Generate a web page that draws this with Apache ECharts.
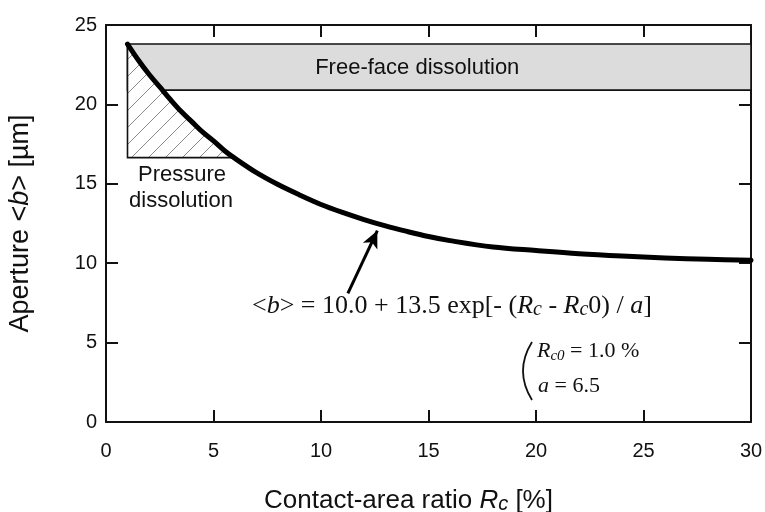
<!DOCTYPE html>
<html>
<head>
<meta charset="utf-8">
<script src="https://cdn.jsdelivr.net/npm/echarts@6/dist/echarts.min.js"></script>
<style>
  html, body { margin: 0; padding: 0; background: #fff; }
  #chart { width: 765px; height: 512px; }
</style>
</head>
<body>
<div id="chart"></div>
<script>
// curve
const curveX = [1, 1.5, 2, 2.5, 3, 3.5, 4, 4.5, 5, 5.5, 6, 7, 8, 9, 10, 11, 12, 13, 14, 15, 16, 18, 20, 22, 24, 26, 28, 30];
const curveY = [23.8, 22.8, 21.9, 21.1, 20.3, 19.55, 18.9, 18.25, 17.7, 17.1, 16.6, 15.7, 14.95, 14.3, 13.7, 13.2, 12.75, 12.35, 12.0, 11.68, 11.42, 11.02, 10.8, 10.6, 10.45, 10.33, 10.25, 10.18];

// shaded regions
const bandX = [1, 30];        // free-face dissolution band
const bandY = [20.9, 23.8];
const hatchX = [1, 5.9];      // pressure dissolution triangle
const hatchBottom = 16.65;

// arrow to the curve
const arrowFrom = [11.25, 8.1];
const arrowTo = [12.62, 12.05];

const xTicks = { min: 0, max: 30, step: 5 };
const yTicks = { min: 0, max: 25, step: 5 };

const SANS = 'Liberation Sans, Arial, sans-serif';
const SERIF = 'Liberation Serif, Times New Roman, serif';
const INK = '#111';

// hatch tile "/"
const hatch = (() => {
  const s = 17, c = document.createElement('canvas');
  c.width = s; c.height = s;
  const g = c.getContext('2d');
  g.fillStyle = '#fff'; g.fillRect(0, 0, s, s);
  g.strokeStyle = '#8a8a8a'; g.lineWidth = 1;
  g.beginPath();
  g.moveTo(0, s); g.lineTo(s, 0);
  g.moveTo(-2, 2); g.lineTo(2, -2);
  g.moveTo(s - 2, s + 2); g.lineTo(s + 2, s - 2);
  g.stroke();
  return c;
})();

const frameAxis = (pos, extra) => Object.assign({
  type: 'value',
  position: pos,
  min: pos === 'left' || pos === 'right' ? yTicks.min : xTicks.min,
  max: pos === 'left' || pos === 'right' ? yTicks.max : xTicks.max,
  interval: pos === 'left' || pos === 'right' ? yTicks.step : xTicks.step,
  axisLine: { show: true, onZero: false, lineStyle: { color: INK, width: 2 } },
  axisTick: { show: true, inside: true, length: 12, lineStyle: { color: INK, width: 2 } },
  axisLabel: { show: false },
  splitLine: { show: false }
}, extra || {});

const chart = echarts.init(document.getElementById('chart'), null, { renderer: 'canvas' });

chart.setOption({
  animation: false,
  backgroundColor: '#fff',
  grid: { left: 106, right: 14, top: 25, bottom: 90, containLabel: false, outerBoundsMode: 'none' },
  xAxis: [
    frameAxis('bottom', {
      axisLabel: { show: true, fontSize: 20, color: INK, fontFamily: SANS, margin: 19 },
      name: '{n|Contact-area ratio }{i|R}{s|c}{n| [%]}',
      nameLocation: 'middle',
      nameGap: 63,
      nameTextStyle: {
        padding: [0, 40, 0, 0],
        rich: {
          n: { fontSize: 26, fontFamily: SANS, color: INK, verticalAlign: 'bottom', lineHeight: 29 },
          i: { fontSize: 26, fontFamily: SANS, fontStyle: 'italic', color: INK, verticalAlign: 'bottom', lineHeight: 29 },
          s: { fontSize: 20, fontFamily: SANS, fontStyle: 'italic', color: INK, verticalAlign: 'bottom', lineHeight: 27 }
        }
      }
    }),
    frameAxis('top')
  ],
  yAxis: [
    frameAxis('left', {
      axisLabel: { show: true, fontSize: 20, color: INK, fontFamily: SANS, margin: 9 },
      name: '{n|Aperture <}{i|b}{n|> [µm]}',
      nameLocation: 'middle',
      nameRotate: 90,
      nameGap: 72,
      nameTextStyle: {
        rich: {
          n: { fontSize: 27, fontFamily: SANS, color: INK },
          i: { fontSize: 27, fontFamily: SANS, fontStyle: 'italic', color: INK }
        }
      }
    }),
    frameAxis('right')
  ],
  series: [
    {
      // holder for the grey band, drawn lowest
      type: 'line',
      z: 1,
      silent: true,
      data: [],
      markArea: {
        silent: true,
        itemStyle: { color: '#dcdcdc', borderColor: INK, borderWidth: 1.6, opacity: 1 },
        label: {
          show: true, position: 'inside', offset: [-22, 1],
          fontSize: 22, fontFamily: SANS, color: INK
        },
        data: [[
          { name: 'Free-face dissolution', xAxis: bandX[0], yAxis: bandY[0] },
          { xAxis: bandX[1], yAxis: bandY[1] }
        ]]
      }
    },
    {
      type: 'custom',
      z: 3,
      silent: true,
      data: [[hatchX[0], hatchBottom]],
      renderItem: (params, api) => {
        const pts = [api.coord([hatchX[0], hatchBottom])];
        curveX.forEach((x, i) => { if (x <= hatchX[1]) pts.push(api.coord([x, curveY[i]])); });
        pts.push(api.coord([hatchX[1], hatchBottom]));
        const edge = [
          api.coord([bandX[0], bandY[1]]),
          api.coord([hatchX[0], hatchBottom]),
          api.coord([hatchX[1], hatchBottom])
        ];
        return {
          type: 'group',
          children: [
            { type: 'polygon', shape: { points: pts }, style: { fill: { image: hatch, repeat: 'repeat' }, stroke: null } },
            { type: 'polyline', shape: { points: edge }, style: { stroke: INK, lineWidth: 1.6, fill: null } }
          ]
        };
      }
    },
    {
      type: 'line',
      z: 5,
      smooth: 0.35,
      showSymbol: false,
      silent: true,
      data: curveX.map((x, i) => [x, curveY[i]]),
      lineStyle: { color: '#000', width: 5, cap: 'round', join: 'round' },
      markLine: {
        silent: true,
        symbol: ['none', 'arrow'],
        symbolSize: [12, 17],
        label: { show: false },
        lineStyle: { color: '#000', width: 3, type: 'solid' },
        data: [[{ coord: arrowFrom }, { coord: arrowTo }]]
      }
    }
  ],
  graphic: [
    {
      type: 'text', z: 10,
      style: { x: 182, y: 175, text: 'Pressure', font: '22px ' + SANS, fill: INK, align: 'center', verticalAlign: 'middle' }
    },
    {
      type: 'text', z: 10,
      style: { x: 181, y: 201, text: 'dissolution', font: '22px ' + SANS, fill: INK, align: 'center', verticalAlign: 'middle' }
    },
    {
      type: 'text', z: 10,
      style: {
        x: 252, y: 305, align: 'left', verticalAlign: 'middle',
        text: '{n|<}{i|b}{n|> = 10.0 + 13.5 exp[- (}{i|R}{s|c}{n| - }{i|R}{s|c}{n|0) / }{i|a}{n|]}',
        rich: {
          n: { fontSize: 26, fontFamily: SERIF, fill: INK, verticalAlign: 'bottom', lineHeight: 29 },
          i: { fontSize: 26, fontFamily: SERIF, fontStyle: 'italic', fill: INK, verticalAlign: 'bottom', lineHeight: 29 },
          s: { fontSize: 20, fontFamily: SERIF, fontStyle: 'italic', fill: INK, verticalAlign: 'bottom', lineHeight: 27 }
        }
      }
    },
    {
      type: 'bezierCurve', z: 10,
      shape: { x1: 532, y1: 342, x2: 532, y2: 400, cpx1: 514, cpy1: 371 },
      style: { stroke: INK, lineWidth: 1.8, fill: null }
    },
    {
      type: 'text', z: 10,
      style: {
        x: 537, y: 351, align: 'left', verticalAlign: 'middle',
        text: '{i|R}{s|c0}{n| = 1.0 %}',
        rich: {
          n: { fontSize: 22, fontFamily: SERIF, fill: INK },
          i: { fontSize: 22, fontFamily: SERIF, fontStyle: 'italic', fill: INK },
          s: { fontSize: 15, fontFamily: SERIF, fontStyle: 'italic', fill: INK, padding: [11, 0, 0, 0] }
        }
      }
    },
    {
      type: 'text', z: 10,
      style: {
        x: 538, y: 386, align: 'left', verticalAlign: 'middle',
        text: '{i|a}{n| = 6.5}',
        rich: {
          n: { fontSize: 22, fontFamily: SERIF, fill: INK },
          i: { fontSize: 22, fontFamily: SERIF, fontStyle: 'italic', fill: INK }
        }
      }
    }
  ]
});
</script>
</body>
</html>
